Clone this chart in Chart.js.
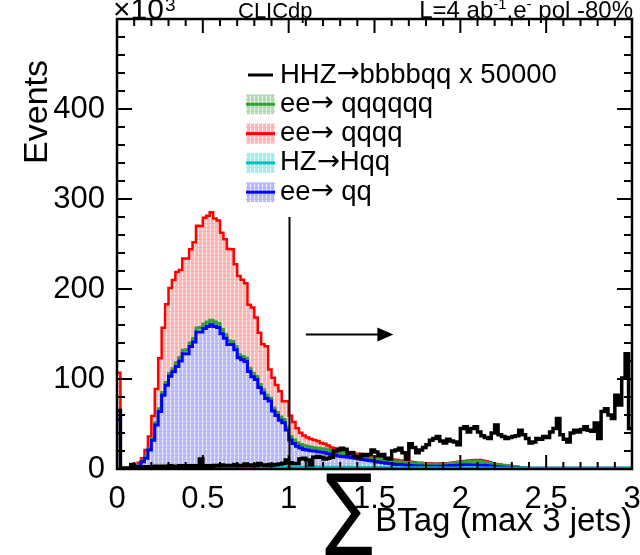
<!DOCTYPE html>
<html>
<head>
<meta charset="utf-8">
<script src="https://cdn.jsdelivr.net/npm/chart.js@4.4.0/dist/chart.umd.min.js"></script>
<style>
  html, body { margin: 0; padding: 0; background: #fff; }
  #wrap { width: 640px; height: 555px; }
</style>
</head>
<body>
<div id="wrap"><canvas id="c" width="640" height="555"></canvas></div>
<script>
// sum of b-tag values of the (max) 3 jets, 150 bins of 0.02 from 0 to 3
// all counts are in thousands of events (axis is x10^3)
const binWidth = 0.02;
const xTickLabels = [0, 0.5, 1, 1.5, 2, 2.5, 3];
const yTickLabels = [0, 100, 200, 300, 400];

// HZ -> Hqq (bottom of the stack)
const hzqq = [
  1, 0.2, 0.2, 0.3, 0.5, 0.7, 0.8, 1, 1, 1.2, 1.3, 1.4, 1.5, 1.5, 1.5, 1.5, 1.5, 1.5, 1.5, 1.5,
  2, 2.1, 2, 2.2, 2.1, 2.2, 2.3, 2.2, 2.3, 2.2, 2.4, 2.3, 2.4, 2.3, 2.4, 2.5, 2.4, 2.5, 2.4, 2.5,
  2.4, 2.5, 2.5, 2.4, 2.5, 2.4, 2.4, 2.3, 2.4, 2.3, 2.3, 2.2, 2.3, 2.2, 2.2, 2.1, 2.2, 2.1, 2.1, 2,
  2.1, 2, 2, 2, 1.9, 1.9, 1.9, 1.9, 1.8, 1.8, 1.8, 1.8, 1.7, 1.7, 1.7, 1.6, 1.6, 1.6, 1.5, 1.5,
  1.5, 1.5, 1.5, 1.4, 1.4, 1.4, 1.4, 1.4, 1.3, 1.3, 1.3, 1.3, 1.3, 1.2, 1.2, 1.2, 1.2, 1.2, 1.2, 1.2,
  1.1, 1.1, 1.1, 1.1, 1.1, 1.1, 1, 1, 1, 1, 1, 1, 1, 1, 0.9, 0.9, 0.9, 0.9, 0.9, 0.9,
  0.9, 0.9, 0.9, 0.9, 0.9, 0.9, 0.8, 0.8, 0.8, 0.8, 0.8, 0.8, 0.8, 0.8, 0.8, 0.8, 0.8, 0.8, 0.8, 0.8,
  0.8, 0.8, 0.8, 0.8, 0.8, 0.8, 0.8, 0.8, 0.8, 0.8
];
// ee -> qq
const eeqq = [
  54, 0.1, 0.1, 0.2, 0.5, 0.8, 2.2, 7, 11, 19.8, 30.7, 47.6, 62.5, 80.5, 91.5, 101.5, 106.5, 112.5, 118.5, 126.5,
  126, 134, 139, 150, 150, 154, 156, 158, 156, 155, 148, 143, 136, 136, 130, 121, 119, 117, 106, 100,
  97, 88, 82, 76, 73, 62, 57, 52, 49, 41, 30, 26, 23, 21, 19.5, 19, 18, 18, 17, 17,
  16, 15, 14.5, 13.5, 12.6, 12.1, 11.6, 11.1, 10.7, 10.2, 9.2, 8.7, 8.3, 7.8, 7.3, 6.4, 5.9, 5.4, 5, 4.5,
  4, 3.5, 3.5, 3.1, 2.6, 2.4, 2.1, 1.9, 1.9, 1.8, 1.7, 1.7, 1.7, 1.8, 1.8, 2, 2.3, 2.6, 2.8, 3.1,
  3.4, 3.6, 3.7, 3.7, 3.6, 3.4, 3.2, 2.8, 2.4, 2, 1.6, 1.3, 1, 0.7, 0.5, 0.3, 0.1, 0, 0, 0,
  0, 0, 0, 0, 0, 0, 0, 0, 0, 0, 0, 0, 0, 0, 0, 0, 0, 0, 0, 0,
  0, 0, 0, 0, 0, 0, 0, 0, 0, 0
];
// ee -> qqqqqq
const ee6q = [
  5, 0.1, 0.1, 0.2, 0.3, 0.5, 0.8, 1, 1.2, 1.5, 2, 2.5, 3, 3, 3, 3, 3.5, 4, 4, 4,
  4.5, 4, 4, 4.5, 5, 5, 5, 5, 5, 4.5, 4.5, 4, 4, 3.5, 3.5, 3.5, 3.5, 3.5, 3.5, 3.5,
  3.5, 3.5, 3.5, 3.5, 3, 3.5, 3.5, 3.5, 3.5, 3.5, 3.5, 4, 4, 4, 4, 4, 4, 3.5, 4, 3.5,
  4, 4, 3.5, 3.5, 3.5, 3.5, 3.5, 3, 3, 3, 3, 3, 3, 3, 3, 3, 3, 3, 3, 3,
  3, 3, 2.8, 3, 3, 3, 3, 2.9, 2.8, 2.7, 2.6, 2.5, 2.4, 2.4, 2.5, 2.4, 2.3, 2.4, 2.7, 2.9,
  3.1, 3.3, 3.6, 3.8, 3.9, 3.9, 3.8, 3.4, 3, 2.6, 2.2, 2, 1.9, 1.8, 1.6, 1.4, 1.2, 0.9, 0.5, 0.2,
  0, 0, 0, 0, 0, 0, 0, 0, 0, 0, 0, 0, 0, 0, 0, 0, 0, 0, 0, 0,
  0, 0, 0, 0, 0, 0, 0, 0, 0, 0
];
// ee -> qqqq (top of the stack)
const ee4q = [
  47, 0.1, 0.3, 0.5, 1.2, 2, 3.2, 3, 7.8, 13.5, 25, 37.5, 56, 72, 87, 95, 98.5, 101, 97, 102,
  101.5, 104, 107, 113.5, 113, 118, 118, 120, 115, 114.5, 107.5, 106, 102, 102.5, 91.5, 87.5, 85.5, 83.5, 70.5, 73.5,
  65.5, 57.5, 50.5, 54.5, 32, 33.5, 30.5, 28.5, 20.5, 28.5, 23.5, 20, 16, 13, 11.5, 10, 9, 8.5, 8, 6.5,
  6, 5, 4, 4, 4, 3.5, 3, 3, 3.5, 2, 3, 2.5, 2.5, 2.5, 2, 2.5, 2.5, 2.5, 2, 2,
  2, 2, 1.7, 1.5, 1.5, 1.2, 1, 0.8, 1, 0.7, 0.9, 0.8, 0.8, 0.8, 0.8, 0.8, 0.7, 0.8, 0.8, 0.8,
  0.9, 1, 1.1, 1.2, 1.4, 1.6, 1.5, 1.3, 1.1, 0.9, 0.7, 0.7, 0.6, 0.5, 0.5, 0.4, 0.3, 0.2, 0.1, 0,
  0, 0, 0, 0, 0, 0, 0, 0, 0, 0, 0, 0, 0, 0, 0, 0, 0, 0, 0, 0,
  0, 0, 0, 0, 0, 0, 0, 0, 0, 0
];
// HHZ -> bbbbqq, scaled x 50000, not stacked
const hhz = [
  65, 1, 0.5, 1, 5, 1.5, 2, 1.5, 2.5, 2, 2.5, 3, 2, 3, 2.5, 3.5, 3, 2.5, 3.5, 3,
  3.5, 3, 3.5, 3, 11, 3, 3.5, 3, 4, 3.5, 4.5, 3.5, 4, 3.5, 5, 4, 3.5, 5.5, 4, 4.5,
  4, 6, 4.5, 4, 5, 4.5, 5, 5.5, 6.5, 10, 7, 6, 6, 11, 12, 10, 4.5, 13, 14, 13,
  11, 12, 13, 20, 21, 23, 22, 17, 18, 14, 13, 16, 15, 16, 21, 19, 15, 16, 12, 11,
  20, 21, 23, 18, 11, 28, 24, 18, 21, 24, 27, 32, 34, 36, 31, 29, 33, 31, 30, 27,
  45, 47, 41, 45, 47, 41, 37, 35, 34, 40, 49, 38, 36, 34, 35, 36, 37, 43, 38, 34,
  29, 30, 34, 33, 36, 35, 41, 45, 56, 38, 33, 30, 40, 43, 41, 44, 47, 43, 42, 51,
  34, 64, 67, 60, 56, 82, 71, 101, 128, 45
];

const cutValue = 1.0;
const cutLineTop = 280;
const arrowFrom = 1.1, arrowTo = 1.61, arrowLevel = 150;

const FONT = '"Liberation Sans", Arial, Helvetica, sans-serif';
const SYM = '"DejaVu Sans", sans-serif';

function steps(values) {
  const pts = values.map((v, i) => ({ x: i * binWidth, y: v }));
  pts.push({ x: values.length * binWidth, y: values[values.length - 1] });
  return pts;
}

const canvas = document.getElementById('c');
const ctx = canvas.getContext('2d');

function hatch(base, dash) {
  const t = document.createElement('canvas');
  t.width = 4; t.height = 4;
  const g = t.getContext('2d');
  g.fillStyle = base; g.fillRect(0, 0, 4, 4);
  g.fillStyle = dash; g.fillRect(2, 0, 1, 3);
  return ctx.createPattern(t, 'repeat');
}

const colRed = '#ff0000', colGreen = '#33a033', colCyan = '#00c0c0', colBlue = '#0000ff';
const patRed = hatch('#ffb4b4', '#fff3f3');
const patGreen = hatch('#b4dcb4', '#f3fbf3');
const patCyan = hatch('#a8ecec', '#f0ffff');
const patBlue = hatch('#b8b8ff', '#f3f3ff');

// label pieces: [text, font family] so the arrow can come from a font with a long arrow
const legendRows = [
  { label: [['HHZ', FONT], ['\u2192', SYM], ['bbbbqq x 50000', FONT]], line: '#000', fill: null },
  { label: [['ee', FONT], ['\u2192', SYM], [' qqqqqq', FONT]], line: colGreen, fill: patGreen },
  { label: [['ee', FONT], ['\u2192', SYM], [' qqqq', FONT]], line: colRed, fill: patRed },
  { label: [['HZ', FONT], ['\u2192', SYM], ['Hqq', FONT]], line: colCyan, fill: patCyan },
  { label: [['ee', FONT], ['\u2192', SYM], [' qq', FONT]], line: colBlue, fill: patBlue }
];

function pieces(c, parts, xRight, y) {
  let w = 0;
  parts.forEach(p => { c.font = p[1] + 'px ' + FONT; w += c.measureText(p[0]).width; });
  let x = xRight - w;
  c.textAlign = 'left';
  parts.forEach(p => {
    c.font = p[1] + 'px ' + FONT;
    c.fillText(p[0], x, y + p[2]);
    x += c.measureText(p[0]).width;
  });
}

const decor = {
  id: 'decor',
  afterDatasetsDraw(chart) {
    const c = chart.ctx, a = chart.chartArea, xs = chart.scales.x, ys = chart.scales.y;
    c.save();
    c.strokeStyle = '#000';
    c.fillStyle = '#000';

    // cut line and arrow
    c.lineWidth = 2;
    c.beginPath();
    const xc = Math.round(xs.getPixelForValue(cutValue)) + 0.5;
    c.moveTo(xc, ys.getPixelForValue(0));
    c.lineTo(xc, ys.getPixelForValue(cutLineTop));
    c.stroke();
    const ay = Math.round(ys.getPixelForValue(arrowLevel)) + 0.5;
    const ax0 = xs.getPixelForValue(arrowFrom), ax1 = xs.getPixelForValue(arrowTo);
    c.beginPath(); c.moveTo(ax0, ay); c.lineTo(ax1 - 12, ay); c.stroke();
    c.beginPath(); c.moveTo(ax1, ay); c.lineTo(ax1 - 16, ay - 7); c.lineTo(ax1 - 16, ay + 7); c.closePath(); c.fill();

    // frame
    c.lineWidth = 2.5;
    c.strokeRect(a.left, a.top, a.right - a.left, a.bottom - a.top);

    // ticks on all four sides
    c.lineWidth = 2;
    c.beginPath();
    for (let k = 0; k <= 25; k++) {
      const v = k * 20, py = ys.getPixelForValue(v);
      if (py < a.top + 1) continue;
      const len = (k % 5 === 0) ? 15 : 8;
      c.moveTo(a.left, py); c.lineTo(a.left + len, py);
      c.moveTo(a.right, py); c.lineTo(a.right - len, py);
    }
    for (let k = 0; k <= 30; k++) {
      const px = xs.getPixelForValue(k / 10);
      const len = (k % 5 === 0) ? 14 : 7;
      c.moveTo(px, a.bottom); c.lineTo(px, a.bottom - len);
      c.moveTo(px, a.top); c.lineTo(px, a.top + len);
    }
    c.stroke();

    // legend
    c.textBaseline = 'middle';
    c.textAlign = 'left';
    legendRows.forEach((r, i) => {
      const cy = 75 + i * 29.3;
      if (r.fill) {
        c.fillStyle = r.fill;
        c.fillRect(246, cy - 10, 29, 20);
      }
      c.strokeStyle = r.line;
      c.lineWidth = 3;
      c.beginPath(); c.moveTo(r.fill ? 246 : 248, cy); c.lineTo(r.fill ? 275 : 273, cy); c.stroke();
      c.fillStyle = '#000';
      let tx = 280;
      r.label.forEach(p => {
        c.font = '27.5px ' + p[1];
        c.fillText(p[0], tx, cy);
        tx += c.measureText(p[0]).width;
      });
    });

    // texts above the frame
    c.textBaseline = 'alphabetic';
    c.fillStyle = '#000';
    c.font = '30px ' + FONT;
    c.fillText('\u00d710', 113, 19);
    const w10 = c.measureText('\u00d710').width;
    c.font = '19px ' + FONT;
    c.fillText('3', 113 + w10 + 1, 11);
    c.font = '22px ' + FONT;
    c.fillText('CLICdp', 238, 18);
    pieces(c, [['L=4 ab', 24, 0], ['-1', 15, -9], [',e', 24, 0], ['-', 15, -9], [' pol -80%', 24, 0]], 633, 18);

    // axis titles
    c.font = '33px ' + FONT;
    c.textAlign = 'right';
    c.fillText('BTag (max 3 jets)', 632, 531);
    c.save();
    c.translate(349, 538);
    c.scale(1, 1.25);
    c.font = '72px ' + SYM;
    c.textAlign = 'center';
    c.fillText('\u2211', 0, 0);
    c.restore();
    c.save();
    c.translate(47, 60);
    c.rotate(-Math.PI / 2);
    c.textAlign = 'right';
    c.font = '34px ' + FONT;
    c.fillText('Events', 0, 0);
    c.restore();

    c.restore();
  }
};

const tickFont = { family: FONT, size: 31 };

new Chart(ctx, {
  type: 'line',
  data: {
    datasets: [
      { label: 'HHZ\u2192bbbbqq x 50000', data: steps(hhz), yAxisID: 'ySig', borderColor: '#000', borderWidth: 3.5, fill: false },
      { label: 'HZ\u2192Hqq', data: steps(hzqq), yAxisID: 'y', borderColor: colCyan, backgroundColor: patCyan, borderWidth: 3, fill: 'origin' },
      { label: 'ee\u2192 qq', data: steps(eeqq), yAxisID: 'y', borderColor: colBlue, backgroundColor: patBlue, borderWidth: 3, fill: 'origin' },
      { label: 'ee\u2192 qqqqqq', data: steps(ee6q), yAxisID: 'y', borderColor: colGreen, backgroundColor: patGreen, borderWidth: 3, fill: 'origin' },
      { label: 'ee\u2192 qqqq', data: steps(ee4q), yAxisID: 'y', borderColor: colRed, backgroundColor: patRed, borderWidth: 2.5, fill: 'origin' }
    ]
  },
  options: {
    responsive: false,
    animation: false,
    devicePixelRatio: 1,
    layout: { padding: { top: 19, right: 8, left: 0, bottom: 0 } },
    elements: { point: { radius: 0 }, line: { tension: 0, stepped: true, borderJoinStyle: 'miter' } },
    plugins: { legend: { display: false }, tooltip: { enabled: false } },
    scales: {
      x: {
        type: 'linear', min: 0, max: 3,
        grid: { display: false, drawTicks: false }, border: { display: false },
        ticks: { font: tickFont, color: '#000', padding: 12, maxRotation: 0, callback: v => String(v) },
        afterBuildTicks: s => { s.ticks = xTickLabels.map(v => ({ value: v })); },
        afterFit: s => { s.height = 86; s.paddingLeft = 0; s.paddingRight = 0; }
      },
      y: {
        min: 0, max: 500, stacked: true,
        grid: { display: false, drawTicks: false }, border: { display: false },
        ticks: { font: tickFont, color: '#000', padding: 12, callback: v => String(v) },
        afterBuildTicks: s => { s.ticks = yTickLabels.map(v => ({ value: v })); },
        afterFit: s => { s.width = 117; s.paddingTop = 0; s.paddingBottom = 0; }
      },
      ySig: { display: false, min: 0, max: 500 }
    }
  },
  plugins: [decor]
});
</script>
</body>
</html>
